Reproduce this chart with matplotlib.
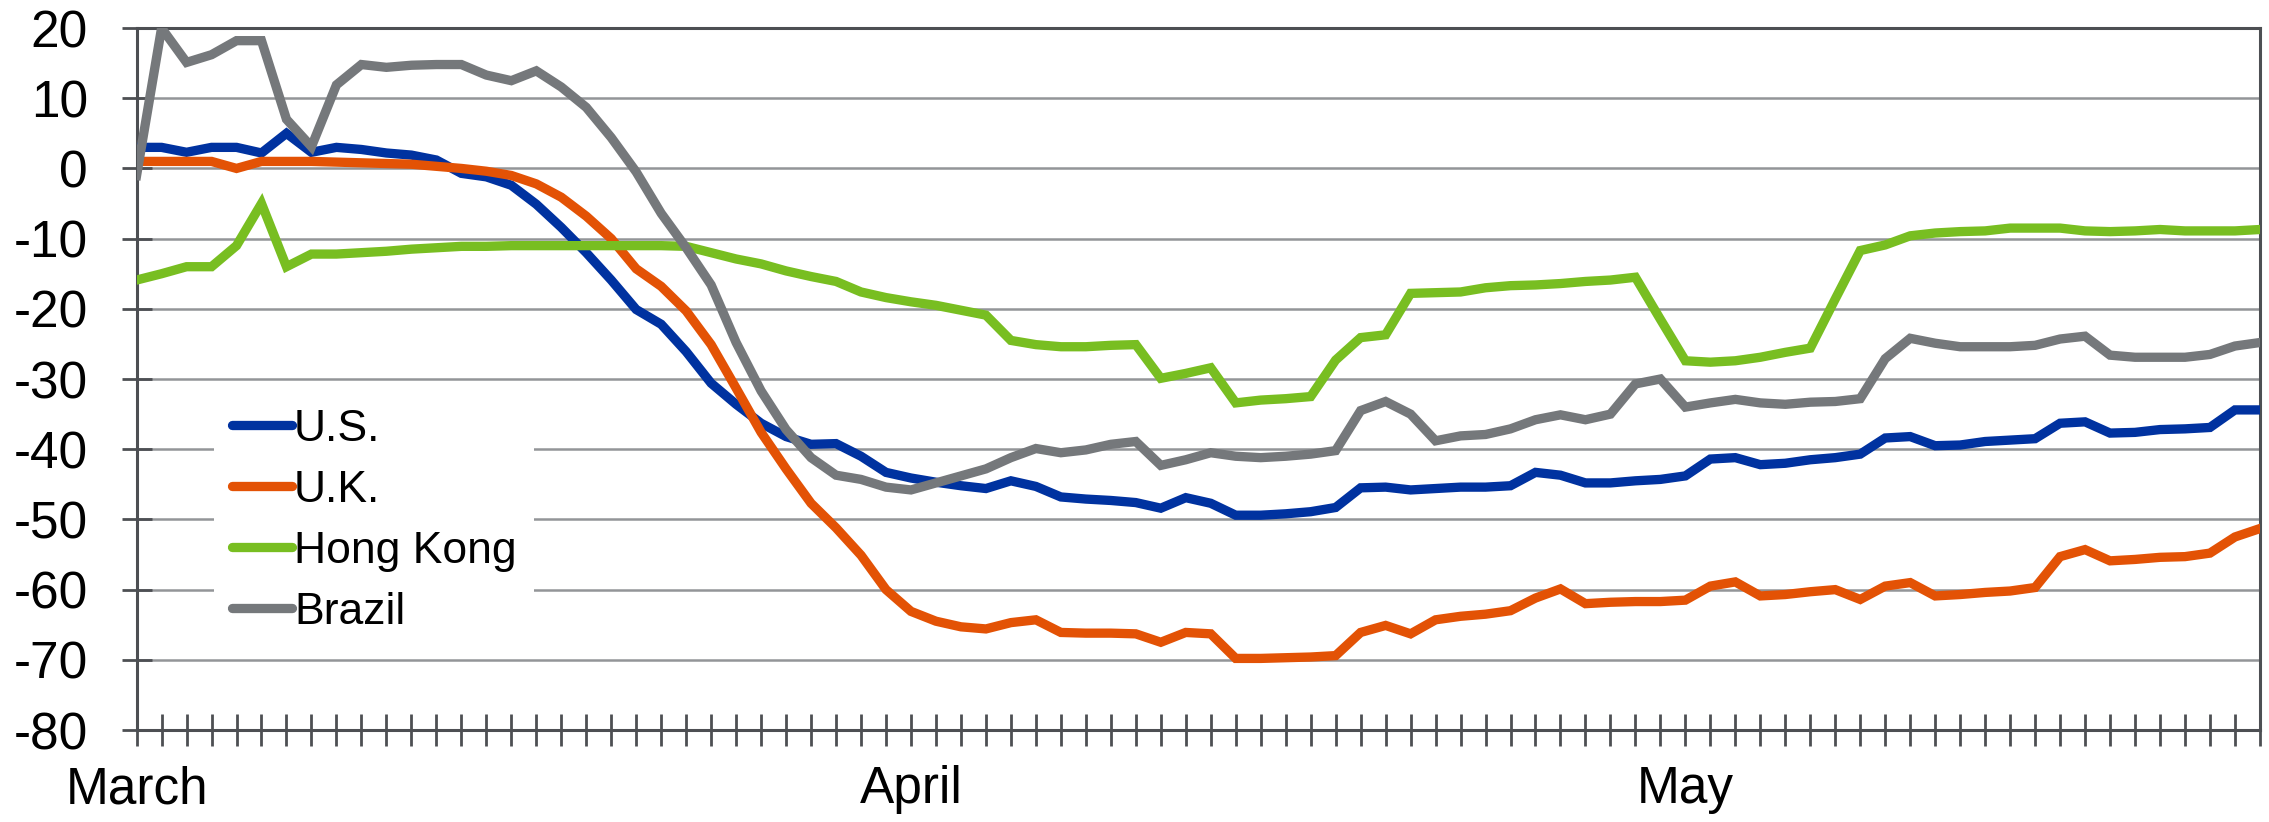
import numpy as np
import matplotlib
matplotlib.use("Agg")
import matplotlib.pyplot as plt
from matplotlib.ticker import MultipleLocator

plt.rcParams["font.family"] = ["Liberation Sans", "DejaVu Sans"]
plt.rcParams["axes.unicode_minus"] = False

# daily change vs. baseline, 1 March onwards
us = [3.0, 3.0, 2.3, 3.0, 3.0, 2.2, 5.0, 2.3, 3.0, 2.7, 2.2, 1.9, 1.2, -0.7, -1.2,
      -2.4, -5.1, -8.4, -12.0, -15.9, -20.1, -22.2, -26.1, -30.6, -33.6, -36.3, -38.2, -39.3, -39.2,
      -41.0, -43.3, -44.1, -44.7, -45.2, -45.6, -44.5, -45.3, -46.8, -47.1, -47.3, -47.6, -48.4, -46.9,
      -47.7, -49.4, -49.4, -49.2, -48.9, -48.3, -45.5, -45.4, -45.8, -45.6, -45.4, -45.4, -45.2, -43.3,
      -43.7, -44.8, -44.8, -44.5, -44.3, -43.8, -41.4, -41.2, -42.2, -42.0, -41.5, -41.2, -40.7, -38.4,
      -38.2, -39.5, -39.4, -38.9, -38.7, -38.5, -36.3, -36.1, -37.7, -37.6, -37.2, -37.1, -36.9, -34.4, -34.4]

uk = [1.0, 1.0, 1.0, 1.0, 0.0, 1.0, 1.0, 1.0, 0.9, 0.8, 0.7, 0.6, 0.3, 0.0, -0.4,
      -1.0, -2.2, -4.1, -6.8, -10.0, -14.3, -16.8, -20.3, -25.1, -31.3, -37.6, -42.8, -47.7, -51.2,
      -55.1, -60.0, -63.1, -64.5, -65.3, -65.6, -64.7, -64.3, -66.1, -66.2, -66.2, -66.3, -67.5, -66.1,
      -66.3, -69.8, -69.8, -69.7, -69.6, -69.4, -66.1, -65.1, -66.3, -64.3, -63.8, -63.5, -63.0, -61.2,
      -59.9, -62.0, -61.8, -61.7, -61.7, -61.5, -59.5, -58.9, -60.9, -60.7, -60.3, -60.0, -61.4, -59.5,
      -59.0, -60.9, -60.7, -60.4, -60.2, -59.7, -55.3, -54.3, -55.9, -55.7, -55.4, -55.3, -54.8, -52.5, -51.3]

hong_kong = [-15.9, -15.0, -14.0, -14.0, -11.0, -5.0, -14.0, -12.2, -12.2, -12.0, -11.8, -11.5, -11.3, -11.1, -11.1,
             -11.0, -11.0, -11.0, -11.0, -11.0, -11.0, -11.0, -11.1, -12.0, -12.9, -13.6, -14.6, -15.4, -16.1,
             -17.6, -18.4, -19.0, -19.5, -20.2, -20.9, -24.5, -25.1, -25.4, -25.4, -25.2, -25.1, -29.9, -29.2,
             -28.4, -33.4, -33.0, -32.8, -32.5, -27.3, -24.1, -23.7, -17.8, -17.7, -17.6, -17.0, -16.7, -16.6,
             -16.4, -16.1, -15.9, -15.5, -21.5, -27.4, -27.6, -27.4, -26.9, -26.2, -25.6, -18.6, -11.7, -10.9,
             -9.6, -9.2, -9.0, -8.9, -8.5, -8.5, -8.5, -8.9, -9.0, -8.9, -8.7, -8.9, -8.9, -8.9, -8.7]

brazil = [-1.0, 20.0, 15.1, 16.2, 18.2, 18.2, 7.0, 3.1, 11.9, 14.8, 14.4, 14.7, 14.8, 14.8, 13.3,
          12.5, 13.9, 11.6, 8.7, 4.4, -0.5, -6.4, -11.3, -16.6, -24.8, -31.7, -37.2, -41.2, -43.7,
          -44.3, -45.4, -45.8, -44.8, -43.8, -42.8, -41.2, -39.9, -40.5, -40.1, -39.3, -38.9, -42.3, -41.5,
          -40.5, -41.0, -41.2, -41.0, -40.7, -40.2, -34.5, -33.2, -35.0, -38.8, -38.1, -37.9, -37.1, -35.8,
          -35.1, -35.8, -35.0, -30.7, -30.0, -34.0, -33.4, -32.9, -33.4, -33.6, -33.3, -33.2, -32.8, -27.1,
          -24.2, -24.9, -25.4, -25.4, -25.4, -25.2, -24.3, -23.9, -26.6, -26.9, -26.9, -26.9, -26.5, -25.3, -24.8]

series_names = ["U.S.", "U.K.", "Hong Kong", "Brazil"]
month_labels = ["March", "April", "May"]
month_pos = [0, 31, 62]

colors = ["#0032A0", "#E35205", "#78BE21", "#75787B"]
dark = "#4D4F53"
grid = "#939598"

days = np.arange(len(us))

fig = plt.figure(figsize=(22.69, 8.22), dpi=100)
ax = fig.add_axes([0.0602, 0.1119, 0.9358, 0.854])

for vals, name, c in zip([us, uk, hong_kong, brazil], series_names, colors):
    ax.plot(days, vals, color=c, lw=6.7, label=name, solid_joinstyle="miter", zorder=3)

ax.set_xlim(0, len(us) - 1)
ax.set_ylim(-80, 20)
ax.set_yticks(np.arange(-80, 21, 10))
ax.set_xticks(month_pos)
ax.set_xticklabels(month_labels)
ax.xaxis.set_minor_locator(MultipleLocator(1))

ax.grid(axis="y", color=grid, lw=1.8, zorder=0)
for s in ax.spines.values():
    s.set_color(dark)
    s.set_linewidth(2.2)

ax.tick_params(axis="y", which="major", direction="inout", length=22, width=2, color=dark,
               labelsize=37, pad=24)
ax.tick_params(axis="x", which="both", direction="inout", length=23, width=2, color=dark)
ax.tick_params(axis="x", which="major", labelsize=37, pad=14)

leg = ax.legend(loc="upper left", bbox_to_anchor=(0.0943, 0.524), bbox_transform=fig.transFigure,
                frameon=True, fontsize=32, handlelength=1.35, handletextpad=0.05,
                labelspacing=0.45, borderpad=0.4, borderaxespad=0)
leg.get_frame().set_facecolor("white")
leg.get_frame().set_edgecolor("none")
leg.get_frame().set_alpha(1)
for h in leg.get_lines():
    h.set_linewidth(6.7)
    h.set_solid_capstyle("round")

fig.savefig("out.png", dpi=100)
